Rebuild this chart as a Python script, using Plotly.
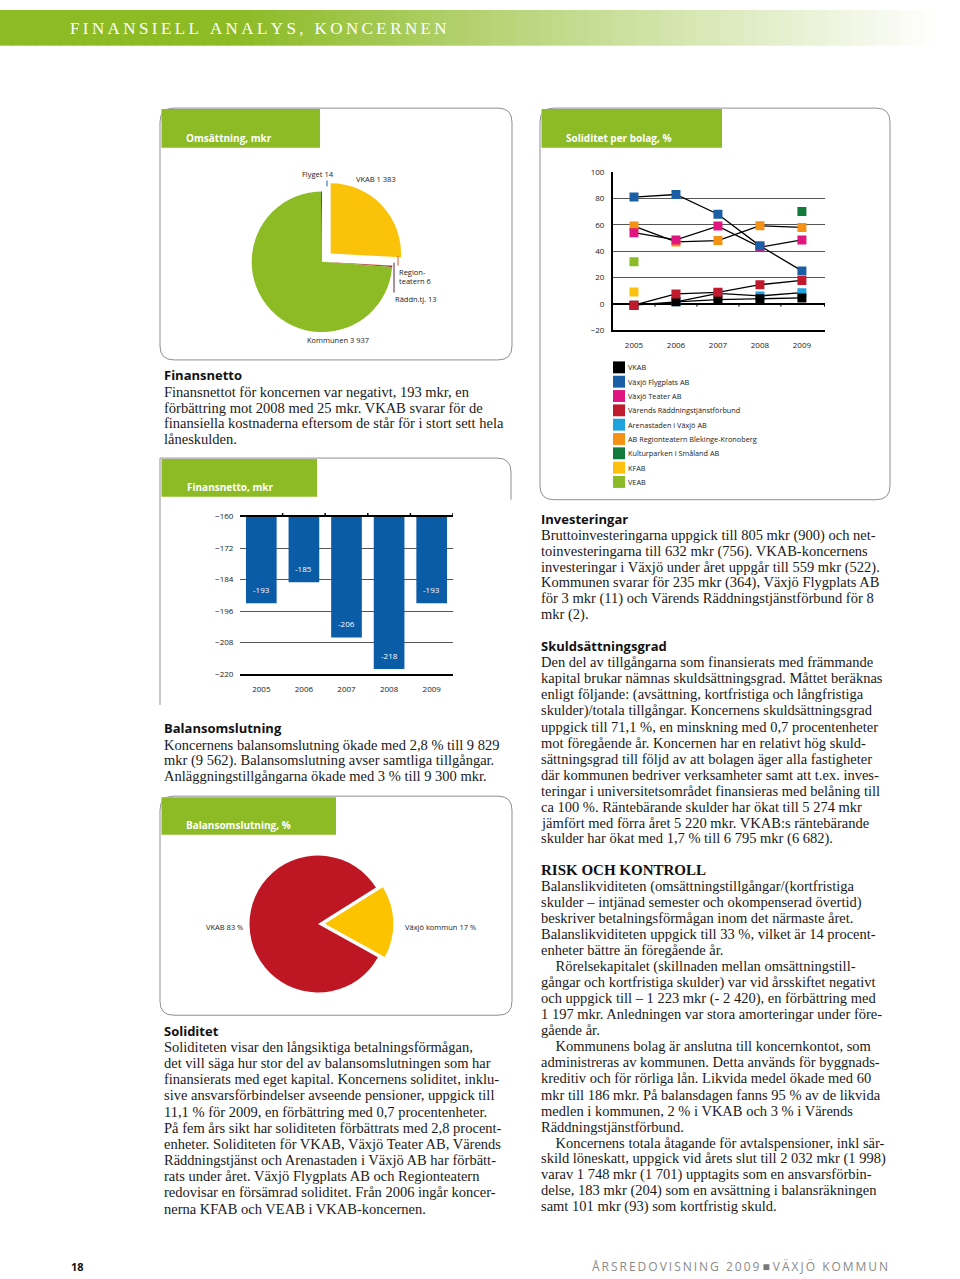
import plotly.graph_objects as go

W, H = 960, 1279

# ---- data ----
years = ["2005", "2006", "2007", "2008", "2009"]

# Omsättning, mkr (pie)
oms_labels = ["VKAB", "Regionteatern", "Räddn.tj.", "Kommunen", "Flyget"]
oms_values = [1383, 6, 13, 3937, 14]
oms_colors = ["#fbc20a", "#e4542a", "#8c1c2c", "#8cbb26", "#1f5fa8"]

# Soliditet per bolag, %
sol_names = ["VKAB", "Växjö Flygplats AB", "Växjö Teater AB", "Värends Räddningstjänstförbund",
             "Arenastaden i Växjö AB", "AB Regionteatern Blekinge-Kronoberg",
             "Kulturparken i Småland AB", "KFAB", "VEAB"]
sol_colors = ["#000000", "#1a5ea6", "#e0157f", "#c01a2c", "#1fa3df", "#f39214",
              "#127a3b", "#fcc10f", "#8bba26"]
vkab = [-1, 1.5, 3.2, 3.8, 4.5]
flygplats = [81, 83, 68, 44, 25]
teater = [54, 48.5, 59, 43, 48.5]
raddning = [-1, 7.5, 8.7, 14.5, 17.8]
arenastaden = [None, 1.5, 8, 6, 8.5]
regionteatern = [59, 47, 48, 59.3, 58]
kulturparken = [None, None, None, None, 70]
kfab = [9, None, None, None, None]
veab = [32, None, None, None, None]
sol_series = [vkab, flygplats, teater, raddning, arenastaden, regionteatern,
              kulturparken, kfab, veab]
draw_order = [4, 0, 3, 5, 2, 1, 6, 7, 8]

# Finansnetto, mkr
fin_values = [-193, -185, -206, -218, -193]

# Balansomslutning, %
bal_labels = ["VKAB", "Växjö kommun"]
bal_values = [83, 17]
bal_colors = ["#be1622", "#fbc300"]


def px(x):
    return x / W


def py(y):
    return 1 - y / H


GREEN = "#8cbb26"
SERIF = "Liberation Serif"
SANS = "Open Sans"

fig = go.Figure()
shapes = []
ann = []


def rrect(x0, y0, x1, y1, r):
    pts = [("M", x0 + r, y0), ("L", x1 - r, y0), ("Q", x1, y0, x1, y0 + r), ("L", x1, y1 - r),
           ("Q", x1, y1, x1 - r, y1), ("L", x0 + r, y1), ("Q", x0, y1, x0, y1 - r),
           ("L", x0, y0 + r), ("Q", x0, y0, x0 + r, y0)]
    s = ""
    for p in pts:
        c = p[0]
        coords = p[1:]
        s += c + " " + " ".join(f"{px(coords[i]):.5f},{py(coords[i + 1]):.5f}"
                                for i in range(0, len(coords), 2)) + " "
    return s + "Z"


def box(x0, y0, x1, y1, tab_x1, tab_h, title):
    shapes.append(dict(type="path", xref="paper", yref="paper", path=rrect(x0, y0, x1, y1, 14),
                       line=dict(color="#8f8f8f", width=1), layer="below"))
    shapes.append(dict(type="rect", xref="paper", yref="paper", x0=px(x0 + 1.5), x1=px(tab_x1),
                       y0=py(y0 + 1), y1=py(y0 + tab_h), fillcolor=GREEN, line=dict(width=0)))
    ann.append(dict(x=px(x0 + 24), y=py(y0 + tab_h - 10), text=f"<b>{title}</b>", showarrow=False,
                    xref="paper", yref="paper", xanchor="left", yanchor="middle",
                    font=dict(family=SANS, size=10, color="white")))


def text_block(x, y0, step, lines, size=14.5):
    for i, line in enumerate(lines):
        ann.append(dict(x=px(x), y=py(y0 + i * step), text=line, showarrow=False,
                        xref="paper", yref="paper", xanchor="left", yanchor="middle",
                        font=dict(family=SERIF, size=size, color="#1a1a1a")))


def heading(x, y, t, family=SANS, size=13):
    ann.append(dict(x=px(x), y=py(y), text=f"<b>{t}</b>", showarrow=False, xref="paper",
                    yref="paper", xanchor="left", yanchor="middle",
                    font=dict(family=family, size=size, color="#111111")))


def label(x, y, t, anchor="left", size=7.5):
    ann.append(dict(x=px(x), y=py(y), text=t, showarrow=False, xref="paper", yref="paper",
                    xanchor=anchor, yanchor="middle", font=dict(family=SANS, size=size, color="#222222")))


# ---- header band ----
steps = 80
for i in range(steps):
    xa = i * W / steps
    t = min(1, max(0, (xa - 230) / 700))
    c0 = (140, 187, 38)
    col = tuple(int(c0[k] + (255 - c0[k]) * t) for k in range(3))
    shapes.append(dict(type="rect", xref="paper", yref="paper", x0=px(xa), x1=px(xa + W / steps + 1),
                       y0=py(40), y1=py(4), fillcolor=f"rgb{col}", line=dict(width=0), layer="below"))
title = "FINANSIELL ANALYS, KONCERNEN"
ann.append(dict(x=px(68), y=py(23), text="\u2009".join(title), showarrow=False, xref="paper",
                yref="paper", xanchor="left", yanchor="middle",
                font=dict(family=SERIF, size=17, color="white")))

# ---- boxes ----
box(160, 103, 512, 357, 320, 40, "Omsättning, mkr")
box(540, 103, 890, 498, 722, 40, "Soliditet per bolag, %")
box(160, 797, 512, 1018, 336, 39, "Balansomslutning, %")
# Finansnetto box (open at bottom)
shapes.append(dict(type="path", xref="paper", yref="paper",
                   path=f"M {px(160)},{py(705)} L {px(160)},{py(456)} L {px(497)},{py(456)} "
                        f"Q {px(511)},{py(456)} {px(511)},{py(470)} L {px(511)},{py(498)}",
                   line=dict(color="#8f8f8f", width=1), layer="below"))
shapes.append(dict(type="rect", xref="paper", yref="paper", x0=px(161.5), x1=px(317),
                   y0=py(457), y1=py(495), fillcolor=GREEN, line=dict(width=0)))
ann.append(dict(x=px(185), y=py(485), text="<b>Finansnetto, mkr</b>", showarrow=False,
                xref="paper", yref="paper", xanchor="left", yanchor="middle",
                font=dict(family=SANS, size=10, color="white")))

# ---- pie: Omsättning ----
fig.add_trace(go.Pie(labels=oms_labels, values=oms_values, sort=False, direction="clockwise",
                     rotation=0, pull=[0.17, 0, 0, 0, 0], textinfo="none", showlegend=False,
                     marker=dict(colors=oms_colors, line=dict(width=0)),
                     domain=dict(x=[px(239), px(405)], y=[py(341), py(175)])))
label(300, 169, "Flyget 14")
label(354, 174, "VKAB 1 383")
label(397, 268, "Region-")
label(397, 277, "teatern 6")
label(393, 296, "Räddn.tj. 13")
label(305, 337, "Kommunen 3 937")
shapes += [
    dict(type="line", xref="paper", yref="paper", x0=px(327), x1=px(327), y0=py(176), y1=py(182),
         line=dict(color="#1f5fa8", width=1)),
    dict(type="line", xref="paper", yref="paper", x0=px(398), x1=px(398), y0=py(252), y1=py(262),
         line=dict(color="#e4542a", width=1)),
    dict(type="line", xref="paper", yref="paper", x0=px(394), x1=px(394), y0=py(259), y1=py(289),
         line=dict(color="#5a2030", width=1)),
]

# ---- line chart: Soliditet per bolag ----
for idx in draw_order:
    fig.add_trace(go.Scatter(x=years, y=sol_series[idx], mode="lines+markers", name=sol_names[idx],
                             line=dict(color="black", width=1.3),
                             marker=dict(symbol="square", size=9, color=sol_colors[idx]),
                             connectgaps=False, showlegend=False, xaxis="x", yaxis="y"))
for k in range(4):
    shapes.append(dict(type="line", xref="x", yref="y", x0=k + 0.5, x1=k + 0.5, y0=0, y1=-2.2,
                       line=dict(color="black", width=1)))
shapes.append(dict(type="line", xref="x", yref="y", x0=4.54, x1=4.54, y0=0, y1=-2.2,
                   line=dict(color="black", width=1)))
# legend
for i, (name, col) in enumerate(zip(sol_names, sol_colors)):
    yc = 364.5 + i * 14.45
    shapes.append(dict(type="rect", xref="paper", yref="paper", x0=px(613), x1=px(625),
                       y0=py(yc + 6), y1=py(yc - 6), fillcolor=col, line=dict(width=0)))
    label(626, yc, name, size=7.3)

# ---- bar chart: Finansnetto ----
fig.add_trace(go.Bar(x=years, y=fin_values, marker=dict(color="#0b5ca7", line=dict(width=0)),
                     width=0.72, textposition="none", showlegend=False, xaxis="x2", yaxis="y2"))
for i, v in enumerate(fin_values):
    ann.append(dict(x=i, y=v, xref="x2", yref="y2", text=str(v), showarrow=False, yshift=13.5,
                    xanchor="center", yanchor="middle",
                    font=dict(family=SANS, size=8, color="white")))
for k in range(5):
    shapes.append(dict(type="line", xref="x2", yref="paper", x0=k + 0.5, x1=k + 0.5,
                       y0=py(515), y1=py(511.5), line=dict(color="black", width=1.5)))

# ---- pie: Balansomslutning ----
fig.add_trace(go.Pie(labels=bal_labels, values=bal_values, sort=False, direction="clockwise",
                     rotation=119, pull=[0, 0.1], textinfo="none", showlegend=False,
                     marker=dict(colors=bal_colors, line=dict(width=0)),
                     domain=dict(x=[px(242), px(394)], y=[py(1002), py(850)])))
label(204, 929, "VKAB 83 %")
label(403, 929, "Växjö kommun 17 %")

# ---- text ----
heading(162, 372, "Finansnetto")
text_block(162, 389, 16, [
    "Finansnettot för koncernen var negativt, 193 mkr, en",
    "förbättring mot 2008 med 25 mkr. VKAB svarar för de",
    "finansiella kostnaderna eftersom de står för i stort sett hela",
    "låneskulden.",
])
heading(162, 728, "Balansomslutning")
text_block(162, 745, 16, [
    "Koncernens balansomslutning ökade med 2,8 % till 9 829",
    "mkr (9 562). Balansomslutning avser samtliga tillgångar.",
    "Anläggningstillgångarna ökade med 3 % till 9 300 mkr.",
])
heading(162, 1034, "Soliditet")
text_block(162, 1050, 16.3, [
    "Soliditeten visar den långsiktiga betalningsförmågan,",
    "det vill säga hur stor del av balansomslutningen som har",
    "finansierats med eget kapital. Koncernens soliditet, inklu-",
    "sive ansvarsförbindelser avseende pensioner, uppgick till",
    "11,1 % för 2009, en förbättring med 0,7 procentenheter.",
    "På fem års sikt har soliditeten förbättrats med 2,8 procent-",
    "enheter. Soliditeten för VKAB, Växjö Teater AB, Värends",
    "Räddningstjänst och Arenastaden i Växjö AB har förbätt-",
    "rats under året. Växjö Flygplats AB och Regionteatern",
    "redovisar en försämrad soliditet. Från 2006 ingår koncer-",
    "nerna KFAB och VEAB i VKAB-koncernen.",
])
heading(539, 517, "Investeringar")
text_block(539, 534, 16, [
    "Bruttoinvesteringarna uppgick till 805 mkr (900) och net-",
    "toinvesteringarna till 632 mkr (756). VKAB-koncernens",
    "investeringar i Växjö under året uppgår till 559 mkr (522).",
    "Kommunen svarar för 235 mkr (364), Växjö Flygplats AB",
    "för 3 mkr (11) och Värends Räddningstjänstförbund för 8",
    "mkr (2).",
])
heading(539, 646, "Skuldsättningsgrad")
text_block(539, 662, 16.2, [
    "Den del av tillgångarna som finansierats med främmande",
    "kapital brukar nämnas skuldsättningsgrad. Måttet beräknas",
    "enligt följande: (avsättning, kortfristiga och långfristiga",
    "skulder)/totala tillgångar. Koncernens skuldsättningsgrad",
    "uppgick till 71,1 %, en minskning med 0,7 procentenheter",
    "mot föregående år. Koncernen har en relativt hög skuld-",
    "sättningsgrad till följd av att bolagen äger alla fastigheter",
    "där kommunen bedriver verksamheter samt att t.ex. inves-",
    "teringar i universitetsområdet finansieras med belåning till",
    "ca 100 %. Räntebärande skulder har ökat till 5 274 mkr",
    "jämfört med förra året 5 220 mkr. VKAB:s räntebärande",
    "skulder har ökat med 1,7 % till 6 795 mkr (6 682).",
])
heading(539, 871, "RISK OCH KONTROLL", family=SERIF, size=15)
IND = "\u00a0\u00a0\u00a0\u00a0"
text_block(539, 888, 16.15, [
    "Balanslikviditeten (omsättningstillgångar/(kortfristiga",
    "skulder – intjänad semester och okompenserad övertid)",
    "beskriver betalningsförmågan inom det närmaste året.",
    "Balanslikviditeten uppgick till 33 %, vilket är 14 procent-",
    "enheter bättre än föregående år.",
    IND + "Rörelsekapitalet (skillnaden mellan omsättningstill-",
    "gångar och kortfristiga skulder) var vid årsskiftet negativt",
    "och uppgick till – 1 223 mkr (- 2 420), en förbättring med",
    "1 197 mkr. Anledningen var stora amorteringar under före-",
    "gående år.",
    IND + "Kommunens bolag är anslutna till koncernkontot, som",
    "administreras av kommunen. Detta används för byggnads-",
    "kreditiv och för rörliga lån. Likvida medel ökade med 60",
    "mkr till 186 mkr. På balansdagen fanns 95 % av de likvida",
    "medlen i kommunen, 2 % i VKAB och 3 % i Värends",
    "Räddningstjänstförbund.",
    IND + "Koncernens totala åtagande för avtalspensioner, inkl sär-",
    "skild löneskatt, uppgick vid årets slut till 2 032 mkr (1 998)",
    "varav 1 748 mkr (1 701) upptagits som en ansvarsförbin-",
    "delse, 183 mkr (204) som en avsättning i balansräkningen",
    "samt 101 mkr (93) som kortfristig skuld.",
])

# ---- footer ----
ann.append(dict(x=px(69), y=py(1271), text="<b>18</b>", showarrow=False, xref="paper", yref="paper",
                xanchor="left", yanchor="middle", font=dict(family=SANS, size=11, color="#111111")))
foot = "\u2009".join("ÅRSREDOVISNING 2009") + " <span style='color:#777'>■</span> " + \
    "\u2009".join("VÄXJÖ KOMMUN")
ann.append(dict(x=px(590), y=py(1271), text=foot, showarrow=False, xref="paper", yref="paper",
                xanchor="left", yanchor="middle", font=dict(family=SANS, size=12, color="#8a8a8a")))

tick_font = dict(family=SANS, size=8, color="#222222")
fig.update_layout(
    width=W, height=H, margin=dict(l=0, r=0, t=0, b=0),
    paper_bgcolor="white", plot_bgcolor="rgba(0,0,0,0)", showlegend=False,
    shapes=shapes, annotations=ann,
    xaxis=dict(domain=[px(613), px(825)], anchor="y", type="category", range=[-0.5, 4.55],
               showgrid=False, showline=True, linecolor="black", linewidth=2,
               ticks="outside", ticklen=6, tickcolor="rgba(0,0,0,0)", tickfont=tick_font),
    yaxis=dict(domain=[py(327), py(167)], anchor="x", range=[-20, 100.4],
               tickvals=[-20, 0, 20, 40, 60, 80, 100], showgrid=True, gridcolor="#555555",
               gridwidth=1, zeroline=True, zerolinecolor="black", zerolinewidth=1.5,
               showline=True, linecolor="black", linewidth=2,
               ticks="outside", ticklen=5, tickcolor="rgba(0,0,0,0)", tickfont=tick_font),
    xaxis2=dict(domain=[px(240), px(453)], anchor="y2", type="category", range=[-0.5, 4.5],
                showgrid=False, showline=True, mirror=True, linecolor="black", linewidth=1.5,
                ticks="outside", ticklen=6, tickcolor="rgba(0,0,0,0)", tickfont=tick_font),
    yaxis2=dict(domain=[py(674), py(515)], anchor="x2", range=[-220, -160],
                tickvals=[-220, -208, -196, -184, -172, -160], showgrid=True, gridcolor="#555555",
                gridwidth=1, zeroline=False, showline=False,
                ticks="outside", ticklen=4, tickcolor="rgba(0,0,0,0)", tickfont=tick_font),
)

fig.write_html(
    "out.html",
    config={"displayModeBar": False},
    post_script="document.body.style.margin='0';document.documentElement.style.overflow='hidden';",
)
